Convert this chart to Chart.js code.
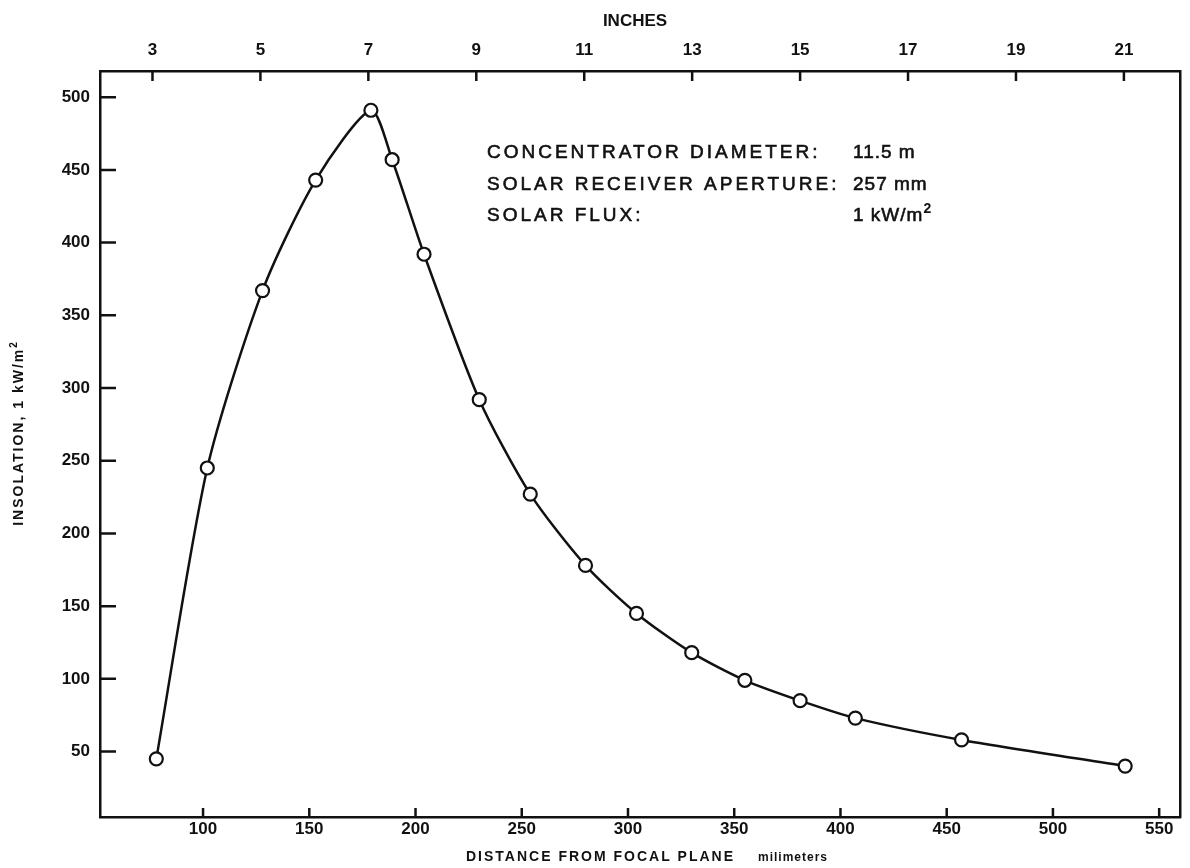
<!DOCTYPE html>
<html>
<head>
<meta charset="utf-8">
<title>Insolation vs distance from focal plane</title>
<script src="https://cdn.jsdelivr.net/npm/chart.js@4.4.0/dist/chart.umd.min.js"></script>
<style>
  body { margin: 0; background: #fff; }
  #wrap { width: 1190px; height: 868px; position: relative; }
</style>
</head>
<body>
<div id="wrap"><canvas id="myChart"></canvas></div>
<script>
'use strict';
// distance from focal plane (mm) and measured insolation
let distanceMm = [78, 102, 128, 153, 179, 189, 204, 230, 254, 280, 304, 330, 355, 381, 407, 457, 534];
let insolation = [45, 245, 367, 443, 491, 457, 392, 292, 227, 178, 145, 118, 99, 85, 73, 58, 40];

let mmTicks = [100, 150, 200, 250, 300, 350, 400, 450, 500, 550];
let inchTicks = [3, 5, 7, 9, 11, 13, 15, 17, 19, 21];
let insolationTicks = [50, 100, 150, 200, 250, 300, 350, 400, 450, 500];

let infoLabels = ['CONCENTRATOR DIAMETER:', 'SOLAR RECEIVER APERTURE:', 'SOLAR FLUX:'];
let infoValues = ['11.5 m', '257 mm', '1 kW/m²'];

let mmMin = 51.5;
let mmMax = 559.8;
let mmPerInch = 25.4;
let ink = '#111';

Chart.defaults.font.family = '"Liberation Sans", Arial, sans-serif';
Chart.defaults.color = ink;

// text with an optional trailing superscript 2
function textWidth(ctx, text, font, supFont) {
  let sup = text.endsWith('²');
  let base = sup ? text.slice(0, -1) : text;
  ctx.font = font;
  let w = ctx.measureText(base).width;
  if (sup) { ctx.font = supFont; w += ctx.measureText('2').width; }
  return w;
}
function drawText(ctx, text, x, y, font, supFont, rise, heavy) {
  let sup = text.endsWith('²');
  let base = sup ? text.slice(0, -1) : text;
  ctx.font = font;
  ctx.fillText(base, x, y);
  if (heavy) ctx.strokeText(base, x, y);
  if (sup) {
    let w = ctx.measureText(base).width;
    ctx.font = supFont;
    ctx.fillText('2', x + w, y - rise);
  }
}

let frameExtras = {
  id: 'frameExtras',
  afterDraw(chart) {
    let ctx = chart.ctx;
    let area = chart.chartArea;
    let xs = chart.scales.x;
    let xs2 = chart.scales.x2;
    let ys = chart.scales.y;
    ctx.save();
    ctx.strokeStyle = ink;
    ctx.lineWidth = 2.5;
    ctx.beginPath();
    insolationTicks.forEach(v => {
      let p = ys.getPixelForValue(v);
      ctx.moveTo(area.left, p);
      ctx.lineTo(area.left + 16, p);
    });
    mmTicks.forEach(v => {
      let p = xs.getPixelForValue(v);
      ctx.moveTo(p, area.bottom);
      ctx.lineTo(p, area.bottom - 9);
    });
    inchTicks.forEach(v => {
      let p = xs2.getPixelForValue(v);
      ctx.moveTo(p, area.top);
      ctx.lineTo(p, area.top + 10);
    });
    ctx.stroke();

    ctx.fillStyle = ink;
    ctx.textBaseline = 'middle';

    // top axis title
    ctx.textAlign = 'center';
    ctx.font = 'bold 17px "Liberation Sans", Arial, sans-serif';
    ctx.fillText('INCHES', 635, 21);

    // bottom axis title
    ctx.textAlign = 'left';
    ctx.letterSpacing = '2px';
    ctx.font = 'bold 14px "Liberation Sans", Arial, sans-serif';
    ctx.fillText('DISTANCE FROM FOCAL PLANE', 466, 857);
    ctx.letterSpacing = '1px';
    ctx.font = 'bold 12px "Liberation Sans", Arial, sans-serif';
    ctx.fillText('milimeters', 758, 858);

    // left axis title, rotated
    ctx.save();
    ctx.translate(19, 433);
    ctx.rotate(-Math.PI / 2);
    ctx.letterSpacing = '2px';
    let yTitle = 'INSOLATION, 1 kW/m²';
    let yFont = 'bold 14px "Liberation Sans", Arial, sans-serif';
    let ySup = 'bold 10px "Liberation Sans", Arial, sans-serif';
    let tw = textWidth(ctx, yTitle, yFont, ySup);
    drawText(ctx, yTitle, -tw / 2, 0, yFont, ySup, 5, false);
    ctx.restore();

    // concentrator info block
    ctx.lineWidth = 0.6;
    let infoFont = '19px "Liberation Sans", Arial, sans-serif';
    let infoSup = 'bold 14px "Liberation Sans", Arial, sans-serif';
    infoLabels.forEach((label, i) => {
      let y = 153 + i * 31.5;
      ctx.letterSpacing = '3px';
      drawText(ctx, label, 487, y, infoFont, infoSup, 7, true);
      ctx.letterSpacing = '1px';
      drawText(ctx, infoValues[i], 853, y, infoFont, infoSup, 7, true);
    });
    ctx.letterSpacing = '0px';
    ctx.restore();
  }
};

let ctx = document.getElementById('myChart');
let myChart = new Chart(ctx, {
  type: 'line',
  data: {
    datasets: [{
      label: 'Insolation',
      data: distanceMm.map((d, i) => ({ x: d, y: insolation[i] })),
      xAxisID: 'x',
      yAxisID: 'y',
      borderColor: ink,
      borderWidth: 2.5,
      tension: 0.25,
      fill: false,
      pointRadius: 6.5,
      pointBorderWidth: 2.2,
      pointBackgroundColor: '#fff',
      pointBorderColor: ink
    }]
  },
  options: {
    responsive: true,
    maintainAspectRatio: false,
    animation: false,
    layout: { padding: 0 },
    plugins: {
      legend: { display: false },
      tooltip: { enabled: false }
    },
    scales: {
      x: {
        type: 'linear',
        position: 'bottom',
        min: mmMin,
        max: mmMax,
        afterBuildTicks: s => { s.ticks = mmTicks.map(v => ({ value: v })); },
        afterFit: s => { s.height = 51; },
        ticks: { font: { size: 17, weight: 'bold' }, padding: 2, maxRotation: 0, autoSkip: false },
        grid: { drawOnChartArea: false, drawTicks: false },
        border: { display: true, color: ink, width: 2.5 }
      },
      x2: {
        type: 'linear',
        position: 'top',
        display: true,
        min: mmMin / mmPerInch,
        max: mmMax / mmPerInch,
        afterBuildTicks: s => { s.ticks = inchTicks.map(v => ({ value: v })); },
        afterFit: s => { s.height = 71; },
        ticks: { font: { size: 17, weight: 'bold' }, padding: 10, maxRotation: 0, autoSkip: false },
        grid: { drawOnChartArea: false, drawTicks: false },
        border: { display: true, color: ink, width: 2.5 }
      },
      y: {
        type: 'linear',
        position: 'left',
        min: 5,
        max: 518,
        afterBuildTicks: s => { s.ticks = insolationTicks.map(v => ({ value: v })); },
        afterFit: s => { s.width = 100; },
        ticks: { font: { size: 17, weight: 'bold' }, padding: 10 },
        grid: { drawOnChartArea: false, drawTicks: false },
        border: { display: true, color: ink, width: 2.5 }
      },
      y2: {
        type: 'linear',
        position: 'right',
        display: true,
        afterFit: s => { s.width = 10; },
        ticks: { display: false },
        grid: { drawOnChartArea: false, drawTicks: false },
        border: { display: true, color: ink, width: 2.5 }
      }
    }
  },
  plugins: [frameExtras]
});
</script>
</body>
</html>
